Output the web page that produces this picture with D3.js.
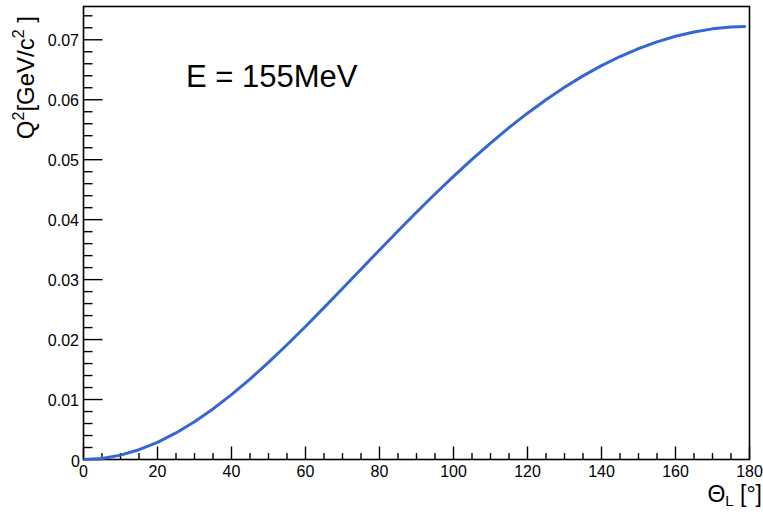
<!DOCTYPE html>
<html><head><meta charset="utf-8">
<script src="https://cdn.jsdelivr.net/npm/d3@7"></script>
<style>
body{margin:0;background:#fff;}
svg{display:block;font-family:"Liberation Sans",Arial,sans-serif;}
</style></head>
<body><svg id="c" width="763" height="512"></svg>
<script>
const thetaDeg = [0,5,10,15,20,25,30,35,40,45,50,55,60,65,70,75,80,85,90,95,100,105,110,115,120,125,130,135,140,145,150,155,160,165,170,175,179];
const q2 = [0,0.00018,0.00073,0.00163,0.00287,0.00443,0.0063,0.00844,0.01082,0.01342,0.01621,0.01914,0.02219,0.02533,0.02852,0.03173,0.03494,0.03811,0.04124,0.04428,0.04723,0.05007,0.05278,0.05535,0.05776,0.06001,0.06208,0.06398,0.06569,0.06721,0.06853,0.06966,0.07058,0.0713,0.07182,0.07213,0.07222];
const xTickLabels = ["0","20","40","60","80","100","120","140","160","180"];
const yTickLabels = ["0","0.01","0.02","0.03","0.04","0.05","0.06","0.07"];

const svg = d3.select("#c");
const L=83.5,R=749.5,T=6.5,B=459.5;
const x = d3.scaleLinear().domain([0,180]).range([L,R]);
const y = d3.scaleLinear().domain([0,0.07555]).range([B,T]);

// frame
svg.append("rect").attr("x",L).attr("y",T).attr("width",R-L).attr("height",B-T)
  .attr("fill","none").attr("stroke","#000").attr("stroke-width",1.6);

// x ticks
const xMinor = d3.range(0,181,5);
svg.append("g").selectAll("line").data(xMinor).join("line")
  .attr("x1",d=>x(d)).attr("x2",d=>x(d)).attr("y1",B)
  .attr("y2",d=>d%20===0?B-13:B-6.5).attr("stroke","#000").attr("stroke-width",1.4);
svg.append("g").selectAll("text").data(xTickLabels).join("text")
  .attr("x",d=>x(+d)).attr("y",477).attr("text-anchor","middle")
  .attr("font-size",16).attr("fill","#000").text(d=>d);

// y ticks
const yMinor = d3.range(0,38).map(i=>i*0.002);
svg.append("g").selectAll("line").data(yMinor).join("line")
  .attr("x1",L).attr("x2",(d,i)=>i%5===0?L+19:L+9)
  .attr("y1",d=>y(d)).attr("y2",d=>y(d)).attr("stroke","#000").attr("stroke-width",1.4);
svg.append("g").selectAll("text").data(yTickLabels).join("text")
  .attr("x",d=>d==="0"?80:79).attr("y",d=>+d===0?y(0)+7:y(+d)+6).attr("text-anchor","end")
  .attr("font-size",16).attr("fill","#000").text(d=>d);

// curve
svg.append("path").datum(thetaDeg.map((t,i)=>[t,q2[i]]))
  .attr("d",d3.line().x(d=>x(d[0])).y(d=>y(d[1])))
  .attr("fill","none").attr("stroke","#3566d3").attr("stroke-width",3).attr("stroke-linejoin","round");

// annotation
svg.append("text").attr("x",186).attr("y",87).attr("font-size",31).attr("fill","#000").text("E = 155MeV");

// x title
const xt = svg.append("text").attr("x",762).attr("y",502).attr("text-anchor","end").attr("font-size",23).attr("fill","#000");
xt.append("tspan").text("Θ");
xt.append("tspan").attr("font-size",15).attr("dy",4).text("L");
xt.append("tspan").attr("dy",-4).text(" [°]");

// y title
const yt = svg.append("text").attr("transform","translate(33.5,16) rotate(-90)").attr("text-anchor","end")
  .attr("font-size",24).attr("fill","#000");
yt.append("tspan").text("Q");
yt.append("tspan").attr("font-size",16).attr("dy",-10).text("2");
yt.append("tspan").attr("dy",10).text("[GeV/c");
yt.append("tspan").attr("font-size",16).attr("dy",-10).text("2");
yt.append("tspan").attr("dy",10).text(" ]");
</script></body></html>
